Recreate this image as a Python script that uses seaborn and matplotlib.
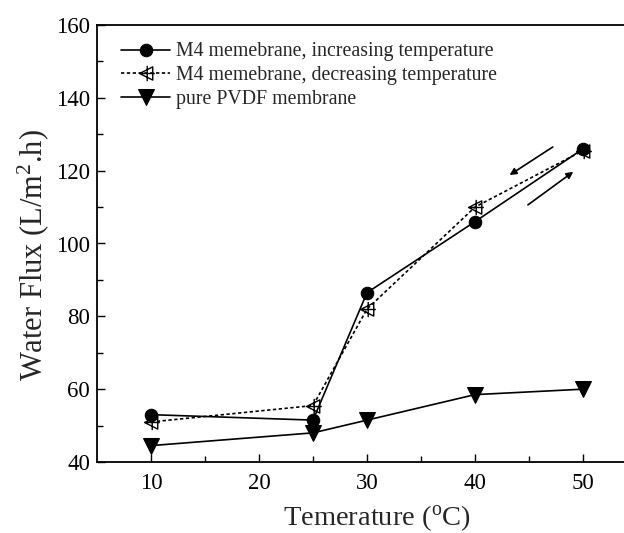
import numpy as np
import pandas as pd
import matplotlib
matplotlib.use("Agg")
import matplotlib.pyplot as plt
from matplotlib.path import Path
import seaborn as sns

temperature = [10, 25, 30, 40, 50]
flux_increasing = [53.0, 51.5, 86.5, 106.0, 126.0]
flux_decreasing = [51.0, 55.5, 82.0, 110.0, 125.5]
flux_pvdf = [44.5, 48.0, 51.5, 58.5, 60.0]

labels = ["M4 memebrane, increasing temperature",
          "M4 memebrane, decreasing temperature",
          "pure PVDF membrane"]

sns.set_style("ticks")
plt.rcParams['font.family'] = ['Liberation Serif', 'DejaVu Serif']
plt.rcParams['mathtext.fontset'] = 'custom'
plt.rcParams['mathtext.rm'] = 'Liberation Serif'

fig = plt.figure(figsize=(6.24, 5.33), dpi=100)
ax = fig.add_axes([97/624, 1-462/533, 540/624, 437/533])

# custom marker: left triangle with a cross
verts = [(-1, 0), (0.9, 0.95), (0.9, -0.95), (-1, 0),
         (0.1, -1.1), (0.1, 1.1),
         (-0.7, 0), (1.2, 0)]
codes = [Path.MOVETO, Path.LINETO, Path.LINETO, Path.CLOSEPOLY,
         Path.MOVETO, Path.LINETO,
         Path.MOVETO, Path.LINETO]
tri_cross = Path(verts, codes)

df1 = pd.DataFrame({"T": temperature, "F": flux_increasing})
df2 = pd.DataFrame({"T": temperature, "F": flux_decreasing})
df3 = pd.DataFrame({"T": temperature, "F": flux_pvdf})

sns.lineplot(data=df1, x="T", y="F", ax=ax, color="black", lw=1.2,
             marker="o", markersize=9, markeredgecolor="black",
             label=labels[0])
sns.lineplot(data=df2, x="T", y="F", ax=ax, color="black", lw=1.2,
             linestyle=(0, (2, 1.5)), marker=tri_cross, markersize=12,
             markerfacecolor="none", markeredgecolor="black", markeredgewidth=1.0,
             label=labels[1])
sns.lineplot(data=df3, x="T", y="F", ax=ax, color="black", lw=1.2,
             marker="v", markersize=11, markeredgecolor="black",
             label=labels[2])

ax.set_xlim(5, 55)
ax.set_ylim(40, 160)
ax.set_xticks([10, 20, 30, 40, 50])
ax.set_xticks([15, 25, 35, 45], minor=True)
ax.set_yticks([40, 60, 80, 100, 120, 140, 160])
ax.set_yticks([50, 70, 90, 110, 130, 150], minor=True)
ax.tick_params(which="both", direction="in", top=False, right=False,
               labelsize=16.5, width=1.0, colors="black")
ax.tick_params(which="major", length=6)
ax.tick_params(axis="x", which="major", pad=8)
ax.tick_params(axis="y", which="major", pad=5)
ax.tick_params(which="minor", length=4)
for s in ax.spines.values():
    s.set_linewidth(1.3)
    s.set_color("black")

ax.set_xlabel("Temerature ($\\mathregular{^o}$C)", fontsize=20.5)
ax.set_ylabel("Water Flux (L/m$\\mathregular{^2}$.h)", fontsize=22)
ax.xaxis.set_label_coords(0.519, -0.095)
ax.yaxis.set_label_coords(-0.085, 0.474)

ax.annotate("", xy=(43.2, 118.8), xytext=(47.2, 126.5),
            arrowprops=dict(arrowstyle="-|>", color="black", lw=1.2,
                            mutation_scale=10, shrinkA=0, shrinkB=0))
ax.annotate("", xy=(49.1, 119.7), xytext=(44.9, 110.6),
            arrowprops=dict(arrowstyle="-|>", color="black", lw=1.2,
                            mutation_scale=10, shrinkA=0, shrinkB=0))

leg = ax.legend(loc="upper left", frameon=False, fontsize=14.3,
                handlelength=2.5, handletextpad=0.3, labelspacing=0.25,
                borderpad=0, borderaxespad=0,
                bbox_to_anchor=(0.044, 0.96))

fig.savefig("out.png", dpi=100)
